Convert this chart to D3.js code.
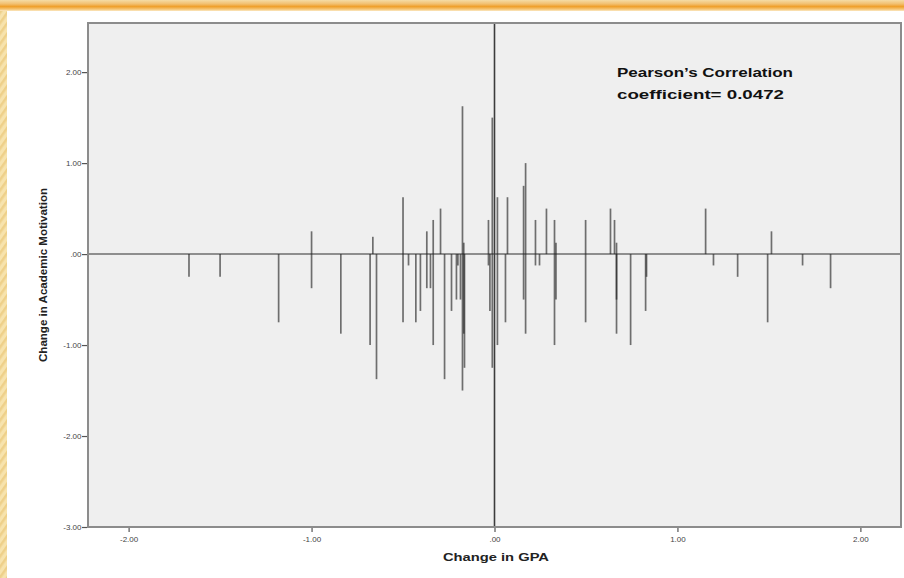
<!DOCTYPE html>
<html>
<head>
<meta charset="utf-8">
<script src="https://cdn.jsdelivr.net/npm/d3@7"></script>
<style>
  html, body { margin: 0; padding: 0; background: #fff; }
  svg { display: block; }
</style>
</head>
<body>
<svg id="chart" width="904" height="578"></svg>
<script>
// Change in GPA (x) for each student
const gpaChange = [
  -1.67, -1.50, -1.18, -1.00, -1.00, -0.84, -0.68, -0.665, -0.645,
  -0.50, -0.50, -0.47, -0.43, -0.405, -0.37, -0.37, -0.35, -0.335, -0.335,
  -0.295, -0.273, -0.235, -0.208, -0.20, -0.186, -0.175, -0.175, -0.168, -0.168, -0.164,
  -0.033, -0.033, -0.025, -0.012, -0.012, 0.016, 0.016, 0.06, 0.071,
  0.159, 0.159, 0.17, 0.17, 0.224, 0.224, 0.246, 0.284, 0.328, 0.328, 0.336, 0.336,
  0.498, 0.498, 0.634, 0.656, 0.667, 0.667, 0.667, 0.744, 0.826, 0.831,
  1.154, 1.197, 1.329, 1.493, 1.514, 1.684, 1.837
];
// Change in academic motivation (y) for the same students
const motivationChange = [
  -0.25, -0.25, -0.75, 0.25, -0.375, -0.875, -1.0, 0.19, -1.375,
  0.625, -0.75, -0.125, -0.75, -0.625, 0.25, -0.375, -0.375, 0.375, -1.0,
  0.5, -1.375, -0.625, -0.5, -0.125, -0.5, 1.625, -1.5, 0.125, -0.875, -1.25,
  0.375, -0.125, -0.625, 1.5, -1.25, 0.625, -1.0, -0.75, 0.625,
  0.75, -0.5, 1.0, -0.875, 0.375, -0.125, -0.125, 0.5, 0.375, -1.0, 0.125, -0.5,
  0.375, -0.75, 0.5, 0.375, 0.125, -0.875, -0.5, -1.0, -0.625, -0.25,
  0.5, -0.125, -0.25, -0.75, 0.25, -0.125, -0.375
];
const xTickValues = [-2, -1, 0, 1, 2];
const xTickLabels = ["-2.00", "-1.00", ".00", "1.00", "2.00"];
const yTickValues = [2, 1, 0, -1, -2, -3];
const yTickLabels = ["2.00", "1.00", ".00", "-1.00", "-2.00", "-3.00"];
const xTitle = "Change in GPA";
const yTitle = "Change in Academic Motivation";
const noteLines = ["Pearson\u2019s Correlation", "coefficient= 0.0472"];

const points = gpaChange.map((g, i) => ({ x: g, y: motivationChange[i] }));

const svg = d3.select("#chart");
const W = 904, H = 578;

// slide backdrop: hatched yellow strip on the left and an orange band on top
const defs = svg.append("defs");
const hatch = defs.append("pattern")
  .attr("id", "hatch").attr("patternUnits", "userSpaceOnUse")
  .attr("width", 6).attr("height", 6)
  .attr("patternTransform", "rotate(35)");
hatch.append("rect").attr("width", 6).attr("height", 6).attr("fill", "#f7e3ad");
hatch.append("rect").attr("width", 2.5).attr("height", 6).attr("fill", "#eed08a");

const band = defs.append("linearGradient")
  .attr("id", "band").attr("x1", 0).attr("x2", 0).attr("y1", 0).attr("y2", 1);
[["0", "#f5dca5"], ["0.35", "#f2c070"], ["0.6", "#ef9f2a"], ["0.85", "#f6c777"], ["1", "#fbe8c4"]]
  .forEach(([o, c]) => band.append("stop").attr("offset", o).attr("stop-color", c));

svg.append("rect").attr("width", W).attr("height", H).attr("fill", "url(#hatch)");
svg.append("rect").attr("x", 0).attr("y", 0).attr("width", W).attr("height", 11).attr("fill", "url(#band)");
svg.append("rect").attr("x", 7).attr("y", 11).attr("width", W - 7).attr("height", H - 11).attr("fill", "#ffffff");

// plot frame
const plot = { left: 88, right: 901, top: 23, bottom: 527 };

const x = d3.scaleLinear().domain([-2.222, 2.222]).range([plot.left, plot.right]);
const y = d3.scaleLinear().domain([-3, 2.54]).range([plot.bottom, plot.top]);

svg.append("rect")
  .attr("x", plot.left).attr("y", plot.top)
  .attr("width", plot.right - plot.left).attr("height", plot.bottom - plot.top)
  .attr("fill", "#efefef");

// reference lines through the origin
svg.append("line")
  .attr("x1", plot.left).attr("x2", plot.right)
  .attr("y1", y(0)).attr("y2", y(0))
  .attr("stroke", "#6e6e6e").attr("stroke-width", 1.5);
svg.append("line")
  .attr("x1", x(0)).attr("x2", x(0))
  .attr("y1", plot.top).attr("y2", plot.bottom)
  .attr("stroke", "#3c3c3c").attr("stroke-width", 1.6);

// each case drawn as a drop line from zero to its value
svg.append("g").selectAll("line")
  .data(points)
  .join("line")
  .attr("x1", d => x(d.x)).attr("x2", d => x(d.x))
  .attr("y1", y(0)).attr("y2", d => y(d.y))
  .attr("stroke", "#1e1e1e").attr("stroke-width", 1.7).attr("stroke-opacity", 0.62);

svg.append("rect")
  .attr("x", plot.left).attr("y", plot.top)
  .attr("width", plot.right - plot.left).attr("height", plot.bottom - plot.top)
  .attr("fill", "none").attr("stroke", "#8c8c8c").attr("stroke-width", 2);

// axes
const xAxis = d3.axisBottom(x).tickValues(xTickValues)
  .tickFormat((d, i) => xTickLabels[i]).tickSize(4).tickSizeOuter(0);
const gx = svg.append("g").attr("transform", `translate(0,${plot.bottom + 1})`).call(xAxis);
gx.select(".domain").remove();
gx.selectAll(".tick line").attr("stroke", "#555").attr("stroke-width", 1.2);
gx.selectAll(".tick text").attr("dy", "0.9em")
  .attr("font-family", "Liberation Sans, Arial, sans-serif").attr("font-size", 8)
  .attr("fill", "#444");

const yAxis = d3.axisLeft(y).tickValues(yTickValues)
  .tickFormat((d, i) => yTickLabels[i]).tickSize(5).tickSizeOuter(0);
const gy = svg.append("g").attr("transform", `translate(${plot.left - 1},0)`).call(yAxis);
gy.select(".domain").remove();
gy.selectAll(".tick line").attr("stroke", "#555").attr("stroke-width", 1.2);
gy.selectAll(".tick text").attr("x", -5.5)
  .attr("font-family", "Liberation Sans, Arial, sans-serif").attr("font-size", 8)
  .attr("fill", "#444");

// axis titles
svg.append("text")
  .attr("x", 496).attr("y", 561)
  .attr("text-anchor", "middle")
  .attr("font-family", "Liberation Sans, Arial, sans-serif")
  .attr("font-weight", "bold").attr("font-size", 10.5).attr("fill", "#222")
  .attr("textLength", 106).attr("lengthAdjust", "spacingAndGlyphs")
  .text(xTitle);

svg.append("text")
  .attr("transform", "translate(47,275) rotate(-90)")
  .attr("text-anchor", "middle")
  .attr("font-family", "Liberation Sans, Arial, sans-serif")
  .attr("font-weight", "bold").attr("font-size", 10).attr("fill", "#222")
  .attr("textLength", 174).attr("lengthAdjust", "spacingAndGlyphs")
  .text(yTitle);

// correlation note
const noteWidths = [176, 167];
noteLines.forEach((t, i) => {
  svg.append("text")
    .attr("x", 617).attr("y", 77 + i * 21.5)
    .attr("font-family", "Liberation Sans, Arial, sans-serif")
    .attr("font-weight", "bold").attr("font-size", 13).attr("fill", "#111")
    .attr("textLength", noteWidths[i]).attr("lengthAdjust", "spacingAndGlyphs")
    .text(t);
});
</script>
</body>
</html>
